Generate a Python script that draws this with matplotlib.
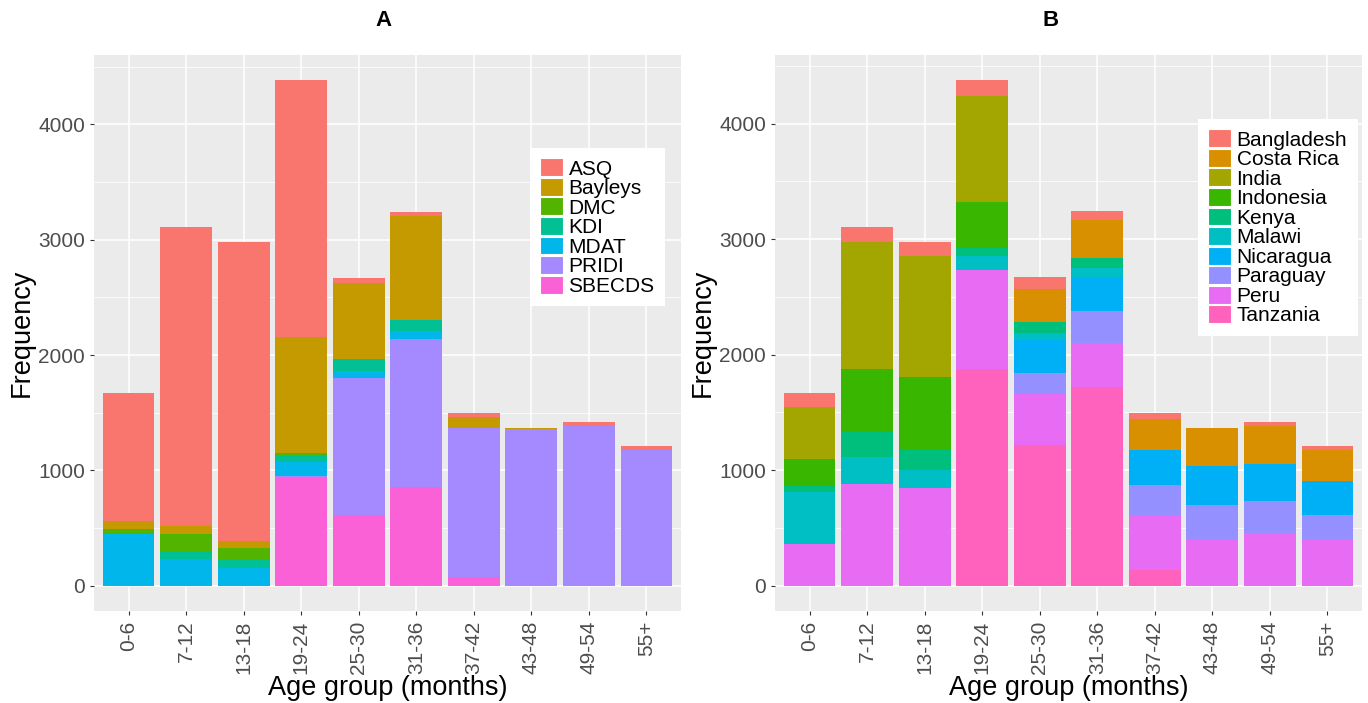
import numpy as np
import matplotlib
matplotlib.use("Agg")
import matplotlib.pyplot as plt
from matplotlib.patches import Patch

plt.rcParams['font.family'] = ['Liberation Sans', 'DejaVu Sans']

age_groups = ["0-6", "7-12", "13-18", "19-24", "25-30", "31-36", "37-42", "43-48", "49-54", "55+"]

# Panel A: by instrument (stack order bottom -> top is reverse of legend)
instruments = ["ASQ", "Bayleys", "DMC", "KDI", "MDAT", "PRIDI", "SBECDS"]
asq     = [1114, 2594, 2591, 2224,   48,   32,   32,    0,   37,   35]
bayleys = [  65,   71,   63, 1012,  660,  902,   95,    5,    0,    0]
dmc     = [  42,  141,   95,   10,    0,    0,    0,    0,    0,    0]
kdi     = [   0,   74,   75,   60,  101,   95,    0,    0,    0,    0]
mdat    = [ 451,  230,  155,  126,   63,   69,    0,    0,    0,    0]
pridi   = [   0,    0,    0,    5, 1191, 1284, 1295, 1362, 1382, 1176]
sbecds  = [   0,    0,    0,  946,  609,  858,   72,    0,    0,    0]
values_a = [asq, bayleys, dmc, kdi, mdat, pridi, sbecds]
colors_a = ["#F8766D", "#C49A00", "#53B400", "#00C094", "#00B6EB", "#A58AFF", "#FB61D7"]

# Panel B: by country
countries = ["Bangladesh", "Costa Rica", "India", "Indonesia", "Kenya", "Malawi",
             "Nicaragua", "Paraguay", "Peru", "Tanzania"]
bangladesh = [ 123,  137,  128,  134,   99,   75,   52,    5,   34,   32]
costa_rica = [   0,    0,    0,    0,  286,  327,  271,  327,  324,  268]
india      = [ 450, 1101, 1048,  920,    0,    0,    0,    0,    0,    0]
indonesia  = [ 236,  538,  624,  394,    0,    0,    0,    0,    0,    0]
kenya      = [  48,  218,  176,   71,   96,   89,    0,    0,    0,    0]
malawi     = [ 454,  232,  155,  120,   63,   73,    0,    0,    0,    0]
nicaragua  = [   0,    0,    0,    0,  286,  300,  301,  333,  321,  292]
paraguay   = [   0,    0,    0,    0,  185,  275,  260,  300,  280,  214]
peru       = [ 361,  884,  848,  862,  436,  384,  471,  402,  457,  402]
tanzania   = [   0,    0,    0, 1875, 1221, 1717,  139,    0,    0,    0]
values_b = [bangladesh, costa_rica, india, indonesia, kenya, malawi,
            nicaragua, paraguay, peru, tanzania]
colors_b = ["#F8766D", "#D89000", "#A3A500", "#39B600", "#00BF7D", "#00BFC4",
            "#00B0F6", "#9590FF", "#E76BF3", "#FF62BC"]

W, H = 1368, 703
fig = plt.figure(figsize=(W / 100, H / 100), dpi=100)


def panel(x0, x1, y0, y1, names, values, colors, title, title_x, leg_box):
    ax = fig.add_axes([x0 / W, 1 - y1 / H, (x1 - x0) / W, (y1 - y0) / H])
    ax.set_facecolor("#EBEBEB")
    x = np.arange(1, len(age_groups) + 1)
    bottom = np.zeros(len(age_groups))
    for name, vals, col in reversed(list(zip(names, values, colors))):
        vals = np.array(vals, dtype=float)
        ax.bar(x, vals, width=0.9, bottom=bottom, color=col, linewidth=0, zorder=2)
        bottom += vals
    top = bottom.max()
    ax.set_xlim(0.4, 10.6)
    ax.set_ylim(-0.05 * top, top * 1.05)
    ax.set_yticks([0, 1000, 2000, 3000, 4000])
    ax.set_yticks([500, 1500, 2500, 3500, 4500], minor=True)
    ax.set_xticks(x)
    ax.set_xticklabels(age_groups, rotation=90)
    ax.grid(which="major", color="white", linewidth=1.1, zorder=0)
    ax.grid(which="minor", axis="y", color="white", linewidth=0.55, zorder=0)
    ax.set_axisbelow(True)
    for s in ax.spines.values():
        s.set_visible(False)
    ax.tick_params(axis="both", which="major", colors="#333333", labelcolor="#4D4D4D",
                   labelsize=15, length=3, width=0.8)
    ax.tick_params(axis="x", pad=4)
    ax.tick_params(which="minor", length=0)
    fig.text(title_x / W, 1 - 21 / H, title, ha="center", va="center",
             fontsize=16, fontweight="bold")
    handles = [Patch(facecolor=c, edgecolor="white", linewidth=0.8) for c in colors]
    lx0, ly0, lx1, ly1 = leg_box
    leg = ax.legend(handles, names, loc="upper left",
                    bbox_to_anchor=((lx0 - x0) / (x1 - x0), 1 - (ly0 - y0) / (y1 - y0)),
                    fontsize=15, frameon=True, fancybox=False, framealpha=1,
                    edgecolor="white", handlelength=1.1, handleheight=0.95,
                    handletextpad=0.25, labelspacing=-0.03, borderpad=0.5,
                    borderaxespad=0)
    leg.get_frame().set_linewidth(0)
    fig.text((x0 + x1) / 2 / W, 1 - 688 / H, "Age group (months)", ha="center",
             va="center", fontsize=19.5)
    fig.text((x0 - 72) / W, 1 - 333 / H, "Frequency", ha="center", va="center",
             rotation=90, fontsize=19.5)
    return ax


panel(94, 681, 55, 611, instruments, values_a, colors_a, "A", 383, (530, 148, 655, 297))
panel(775, 1362, 55, 611, countries, values_b, colors_b, "B", 1051, (1198, 119, 1349, 324))

fig.savefig("out.png", dpi=100)
